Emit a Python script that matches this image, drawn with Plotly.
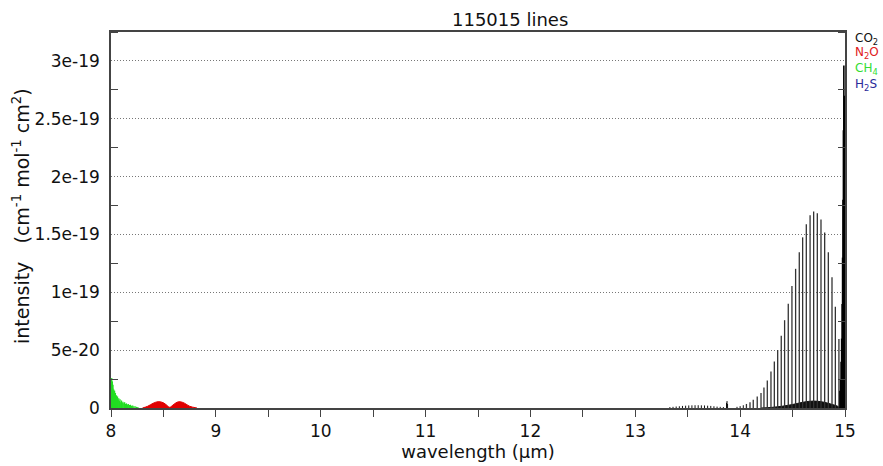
import plotly.graph_objects as go

# ---------------- data ----------------
title_text = "115015 lines"

# CO2 R-branch lines (wavelength in µm, intensity)
co2_wl = [14.060, 14.094, 14.125, 14.163, 14.199, 14.227, 14.259, 14.294, 14.326,
          14.358, 14.392, 14.424, 14.459, 14.494, 14.529, 14.564, 14.596, 14.631,
          14.667, 14.701, 14.736, 14.771, 14.806, 14.841, 14.876, 14.908, 14.942]
co2_int = [0.35e-20, 0.50e-20, 0.72e-20, 1.00e-20, 1.30e-20, 1.78e-20, 2.38e-20, 3.15e-20, 4.01e-20,
           5.01e-20, 6.24e-20, 7.59e-20, 9.02e-20, 10.54e-20, 12.03e-20, 13.46e-20, 14.75e-20, 15.89e-20,
           16.67e-20, 16.98e-20, 16.84e-20, 16.30e-20, 15.18e-20, 13.46e-20, 11.30e-20, 8.76e-20, 5.97e-20]

# CO2 Q-branch (dense, near 15 µm)
co2q_wl = [14.952, 14.958, 14.963, 14.968, 14.973, 14.977, 14.981, 14.985, 14.989, 14.993, 14.997]
co2q_int = [1.5e-20, 2.5e-20, 4.0e-20, 6.0e-20, 9.0e-20, 1.30e-19, 1.80e-19, 2.40e-19, 2.96e-19, 2.70e-19, 2.40e-19]

# CO2 weak hot-band lines
co2w_wl = [13.33, 13.36, 13.39, 13.42, 13.45, 13.48, 13.51, 13.54, 13.57, 13.60, 13.63,
           13.66, 13.69, 13.72, 13.75, 13.78, 13.81, 13.84, 13.870, 13.875, 13.880,
           13.97, 14.00, 14.03]
co2w_int = [0.8e-21, 1.0e-21, 1.3e-21, 1.5e-21, 1.8e-21, 2.0e-21, 2.2e-21, 2.3e-21, 2.4e-21, 2.4e-21, 2.3e-21,
            2.2e-21, 2.0e-21, 1.8e-21, 1.5e-21, 1.2e-21, 1.0e-21, 0.8e-21, 4.5e-21, 6.0e-21, 3.5e-21,
            1.0e-21, 1.6e-21, 2.4e-21]

# CO2 dense hot-band envelope
co2h_wl = [14.20, 14.30, 14.40, 14.50, 14.60, 14.70, 14.80, 14.88, 14.93, 14.95]
co2h_int = [0.0, 0.5e-21, 1.5e-21, 3.0e-21, 5.0e-21, 6.0e-21, 5.0e-21, 3.0e-21, 1.5e-21, 0.0]

# N2O band envelope (dense lines)
n2o_wl = [8.30, 8.35, 8.40, 8.45, 8.50, 8.54, 8.56, 8.59, 8.63, 8.66, 8.70, 8.75, 8.82]
n2o_int = [0.0, 1.5e-21, 4.0e-21, 5.5e-21, 4.5e-21, 1.8e-21, 0.6e-21, 2.5e-21, 5.0e-21, 5.4e-21, 4.2e-21, 1.5e-21, 0.0]

# CH4 lines
ch4_wl = [8.001, 8.004, 8.007, 8.010, 8.013, 8.016, 8.019, 8.022, 8.026, 8.030, 8.034, 8.038, 8.042,
          8.047, 8.052, 8.057, 8.062, 8.068, 8.074, 8.080, 8.086, 8.093, 8.100, 8.107, 8.114, 8.122,
          8.130, 8.138, 8.147, 8.156, 8.165, 8.175, 8.185, 8.196, 8.207, 8.218, 8.230, 8.243, 8.256]
ch4_int = [25e-21, 21e-21, 26e-21, 19e-21, 23e-21, 17e-21, 20e-21, 14e-21, 16e-21, 12e-21, 15e-21, 10e-21, 13e-21,
           9e-21, 11e-21, 8e-21, 10e-21, 7e-21, 8.5e-21, 6e-21, 7.5e-21, 5e-21, 6.5e-21, 4.5e-21, 5.5e-21, 4e-21,
           5e-21, 3.5e-21, 4e-21, 3e-21, 3.5e-21, 2.5e-21, 2.8e-21, 2e-21, 2.2e-21, 1.5e-21, 1.6e-21, 1e-21, 0.8e-21]

y_tickvals = [0, 5e-20, 1e-19, 1.5e-19, 2e-19, 2.5e-19, 3e-19]
y_ticktext = ["0", "5e-20", "1e-19", "1.5e-19", "2e-19", "2.5e-19", "3e-19"]
y_minor = [2.5e-20, 7.5e-20, 1.25e-19, 1.75e-19, 2.25e-19, 2.75e-19, 3.25e-19]

legend_names = ["CO<sub>2</sub>", "N<sub>2</sub>O", "CH<sub>4</sub>", "H<sub>2</sub>S"]
legend_colors = ["#111111", "#e02020", "#33dd33", "#2a2a9a"]

FONT = "DejaVu Sans, Verdana, sans-serif"


def sticks(wl, inten):
    xs, ys = [], []
    for w, h in zip(wl, inten):
        xs += [w, w, None]
        ys += [0, h, None]
    return xs, ys


fig = go.Figure()

x, y = sticks(ch4_wl, ch4_int)
fig.add_trace(go.Scatter(x=x, y=y, mode="lines", line=dict(color="#22dd22", width=1.3),
                         hoverinfo="skip", showlegend=False))

fig.add_trace(go.Scatter(x=n2o_wl, y=n2o_int, mode="lines", fill="tozeroy",
                         fillcolor="#e00000", line=dict(color="#e00000", width=1, shape="spline"),
                         showlegend=False))

fig.add_trace(go.Scatter(x=co2h_wl, y=co2h_int, mode="lines", fill="tozeroy",
                         fillcolor="#111111", line=dict(color="#111111", width=1, shape="spline"),
                         showlegend=False))

x, y = sticks(co2w_wl, co2w_int)
fig.add_trace(go.Scatter(x=x, y=y, mode="lines", line=dict(color="#111111", width=1),
                         hoverinfo="skip", showlegend=False))

x, y = sticks(co2_wl, co2_int)
fig.add_trace(go.Scatter(x=x, y=y, mode="lines", line=dict(color="#333333", width=1.3),
                         hoverinfo="skip", showlegend=False))

x, y = sticks(co2q_wl, co2q_int)
fig.add_trace(go.Scatter(x=x, y=y, mode="lines", line=dict(color="#000000", width=1.6),
                         hoverinfo="skip", showlegend=False))

fig.update_layout(
    width=883, height=466,
    margin=dict(l=111, r=38, t=32, b=56),
    paper_bgcolor="white", plot_bgcolor="white",
    font=dict(family=FONT, size=17, color="#111"),
    showlegend=False,
)

fig.update_xaxes(
    range=[8, 15], dtick=1, tick0=8,
    ticks="outside", ticklen=7, tickcolor="#444", tickwidth=1.2,
    minor=dict(dtick=0.5, ticks="outside", ticklen=7, tickcolor="#444", tickwidth=1.2),
    showline=True, linecolor="#444", linewidth=1.5, mirror=True,
    showgrid=False, zeroline=False,
    title=dict(text="wavelength (µm)", standoff=0, font=dict(size=18)),
    tickfont=dict(size=17),
)

fig.update_yaxes(
    range=[0, 3.25e-19],
    tickmode="array", tickvals=y_tickvals, ticktext=y_ticktext,
    ticks="", showline=True, linecolor="#444", linewidth=1.5, mirror="ticks",
    minor=dict(tickmode="array", tickvals=y_minor, ticks="inside", ticklen=7,
               tickcolor="#444", tickwidth=1.2, showgrid=False),
    showgrid=True, gridcolor="#777", griddash="1px,2px", gridwidth=1,
    zeroline=False, tickfont=dict(size=17), ticklabelstandoff=6,
)

# title
fig.add_annotation(text=title_text, xref="paper", yref="paper", x=0.5436, y=1.0,
                   xanchor="center", yanchor="bottom", showarrow=False,
                   font=dict(size=18, family=FONT, color="#111"))

# y axis title
fig.add_annotation(text="intensity   (cm<sup>-1</sup> mol<sup>-1</sup> cm<sup>2</sup>)",
                   xref="paper", yref="paper", x=(21 - 111) / 734, y=(410 - 217) / 378,
                   xanchor="center", yanchor="middle", textangle=-90, showarrow=False,
                   font=dict(size=19, family=FONT, color="#111"))

# legend text
leg_y = [39, 53, 69, 85]
for name, col, yy in zip(legend_names, legend_colors, leg_y):
    fig.add_annotation(text=name, xref="paper", yref="paper", x=1.0, xshift=8,
                       y=(410 - yy) / 378, xanchor="left", yanchor="middle",
                       showarrow=False, font=dict(size=12, family=FONT, color=col))

fig.write_html(
    "out.html",
    config={"displayModeBar": False},
    post_script="document.body.style.margin='0';document.body.style.overflow='hidden';",
)
